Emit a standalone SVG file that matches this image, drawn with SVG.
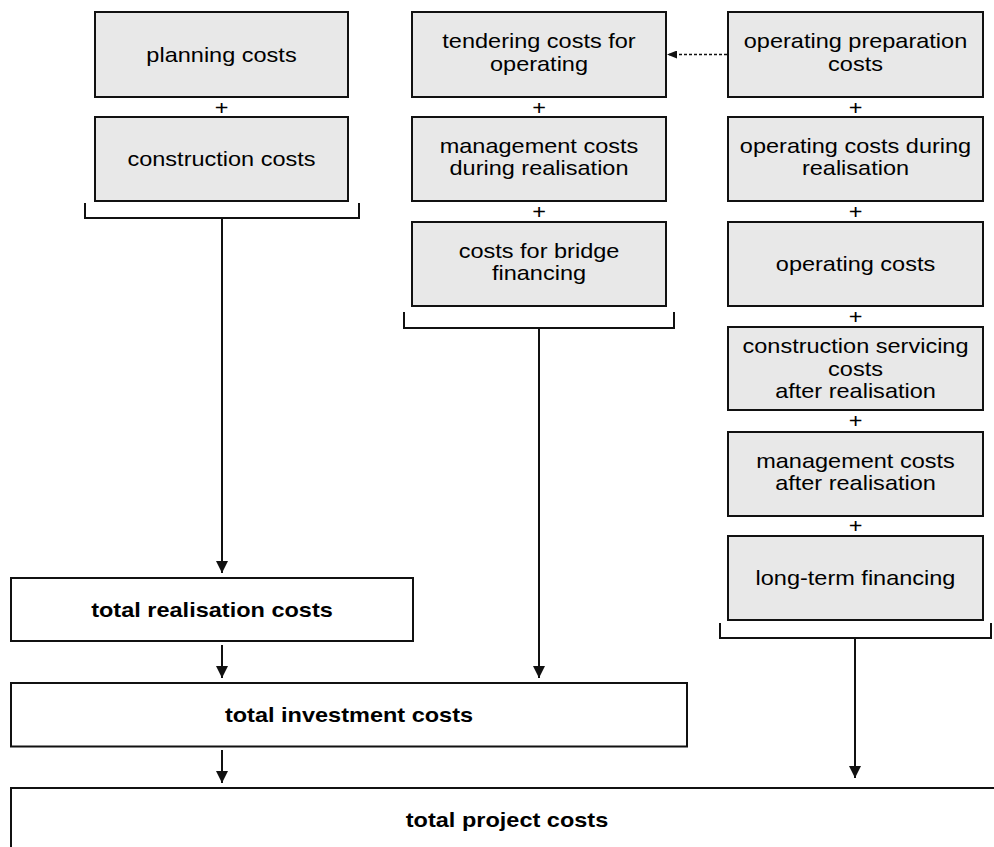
<svg xmlns="http://www.w3.org/2000/svg" width="994" height="847" viewBox="0 0 994 847">
<style>
  .box{fill:#e8e8e8;stroke:#111;stroke-width:2}
  .tot{fill:#fff;stroke:#111;stroke-width:2}
  .t{font-family:"Liberation Sans",Arial,Helvetica,sans-serif;font-size:21px;fill:#000;text-anchor:middle}
  .b{font-weight:bold}
  .ln{fill:none;stroke:#111;stroke-width:2}
  .dash{fill:none;stroke:#111;stroke-width:1.5;stroke-dasharray:3 2}
</style>
<defs>
  <marker id="ah" markerUnits="userSpaceOnUse" markerWidth="12" markerHeight="12" refX="12" refY="6" orient="auto">
    <path d="M0,0 L12,6 L0,12 z" fill="#111"/>
  </marker>
  <marker id="ahs" markerUnits="userSpaceOnUse" markerWidth="10" markerHeight="8" refX="10" refY="4" orient="auto">
    <path d="M0,0 L10,4 L0,8 z" fill="#111"/>
  </marker>
</defs>
<rect width="994" height="847" fill="#fff"/>

<g id="n-planning"><rect class="box" x="95" y="12" width="253" height="85"/>
<text class="t" transform="translate(221.5 0) scale(1.12 1)" x="0" y="62">planning costs</text></g>
<g id="n-construction"><rect class="box" x="95" y="117" width="253" height="84"/>
<text class="t" transform="translate(221.5 0) scale(1.12 1)" x="0" y="166.5">construction costs</text></g>

<g id="n-tendering"><rect class="box" x="412" y="12" width="254" height="85"/>
<text class="t" transform="translate(539 0) scale(1.12 1)" x="0" y="48.5">tendering costs for<tspan x="0" dy="22.5">operating</tspan></text></g>
<g id="n-mgmt-during"><rect class="box" x="412" y="117" width="254" height="84"/>
<text class="t" transform="translate(539 0) scale(1.12 1)" x="0" y="152.8">management costs<tspan x="0" dy="22.5">during realisation</tspan></text></g>
<g id="n-bridge"><rect class="box" x="412" y="222" width="254" height="84"/>
<text class="t" transform="translate(539 0) scale(1.12 1)" x="0" y="257.8">costs for bridge<tspan x="0" dy="22.5">financing</tspan></text></g>

<g id="n-op-prep"><rect class="box" x="728" y="12" width="255" height="85"/>
<text class="t" transform="translate(855.5 0) scale(1.12 1)" x="0" y="48.5">operating preparation<tspan x="0" dy="22.5">costs</tspan></text></g>
<g id="n-op-during"><rect class="box" x="728" y="117" width="255" height="84"/>
<text class="t" transform="translate(855.5 0) scale(1.12 1)" x="0" y="152.8">operating costs during<tspan x="0" dy="22.5">realisation</tspan></text></g>
<g id="n-op-costs"><rect class="box" x="728" y="222" width="255" height="84"/>
<text class="t" transform="translate(855.5 0) scale(1.12 1)" x="0" y="271.4">operating costs</text></g>
<g id="n-constr-serv"><rect class="box" x="728" y="327" width="255" height="83"/>
<text class="t" transform="translate(855.5 0) scale(1.12 1)" x="0" y="353.4">construction servicing<tspan x="0" dy="22.5">costs</tspan><tspan x="0" dy="22.5">after realisation</tspan></text></g>
<g id="n-mgmt-after"><rect class="box" x="728" y="432" width="255" height="84"/>
<text class="t" transform="translate(855.5 0) scale(1.12 1)" x="0" y="467.8">management costs<tspan x="0" dy="22.5">after realisation</tspan></text></g>
<g id="n-longterm"><rect class="box" x="728" y="536" width="255" height="84"/>
<text class="t" transform="translate(855.5 0) scale(1.12 1)" x="0" y="585.4">long-term financing</text></g>

<g id="n-total-realisation"><rect class="tot" x="11" y="578" width="402" height="63"/>
<text class="t b" transform="translate(212 0) scale(1.12 1)" x="0" y="616.7">total realisation costs</text></g>
<g id="n-total-investment"><rect class="tot" x="11" y="683" width="676" height="63.5"/>
<text class="t b" transform="translate(349 0) scale(1.12 1)" x="0" y="721.7">total investment costs</text></g>
<g id="n-total-project"><rect class="tot" x="11" y="788" width="992" height="63"/>
<text class="t b" transform="translate(507 0) scale(1.12 1)" x="0" y="826.7">total project costs</text></g>

<g id="operators">
<text class="t" transform="translate(221.5 0) scale(1.12 1)" x="0" y="115">+</text>
<text class="t" transform="translate(539 0) scale(1.12 1)" x="0" y="115">+</text>
<text class="t" transform="translate(539 0) scale(1.12 1)" x="0" y="219">+</text>
<text class="t" transform="translate(855.5 0) scale(1.12 1)" x="0" y="115">+</text>
<text class="t" transform="translate(855.5 0) scale(1.12 1)" x="0" y="219">+</text>
<text class="t" transform="translate(855.5 0) scale(1.12 1)" x="0" y="324">+</text>
<text class="t" transform="translate(855.5 0) scale(1.12 1)" x="0" y="428.5">+</text>
<text class="t" transform="translate(855.5 0) scale(1.12 1)" x="0" y="533.5">+</text>
</g>

<g id="connectors">
<path class="ln" d="M85,203 V218 H359 V203"/>
<path class="ln" d="M404,312 V328 H674 V312"/>
<path class="ln" d="M720,623 V638 H991 V623"/>
<line class="ln" x1="222" y1="218" x2="222" y2="573" marker-end="url(#ah)"/>
<line class="ln" x1="539" y1="328" x2="539" y2="678" marker-end="url(#ah)"/>
<line class="ln" x1="855" y1="638" x2="855" y2="778" marker-end="url(#ah)"/>
<line class="ln" x1="222" y1="645" x2="222" y2="678" marker-end="url(#ah)"/>
<line class="ln" x1="222" y1="750" x2="222" y2="783" marker-end="url(#ah)"/>
<line class="dash" x1="727" y1="54.5" x2="667" y2="54.5" marker-end="url(#ahs)"/>
</g>
</svg>
